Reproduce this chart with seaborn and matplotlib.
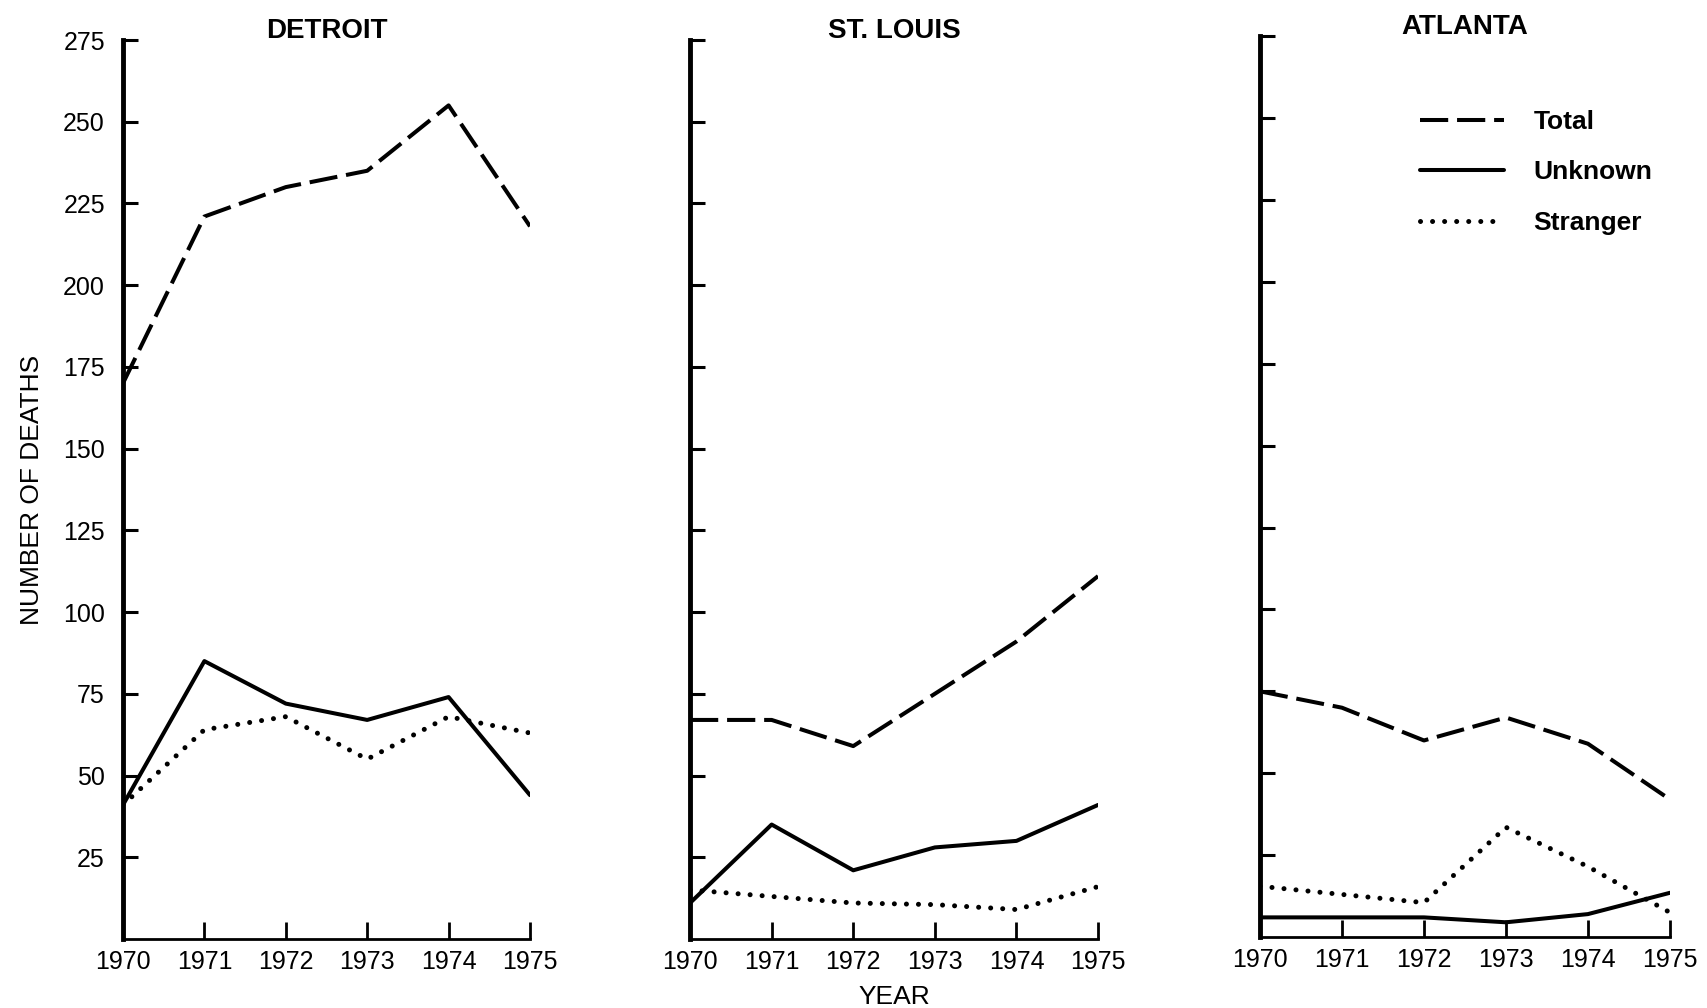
import pandas as pd
import seaborn as sns
import matplotlib.pyplot as plt

years = [1970, 1971, 1972, 1973, 1974, 1975]
cities = ['DETROIT', 'ST. LOUIS', 'ATLANTA']

# values (number of deaths)
detroit_total = [170, 221, 230, 235, 255, 218]
detroit_unknown = [41, 85, 72, 67, 74, 44]
detroit_stranger = [41, 64, 68, 55, 68, 63]

stlouis_total = [67, 67, 59, 75, 91, 111]
stlouis_unknown = [11, 35, 21, 28, 30, 41]
stlouis_stranger = [15, 13, 11, 10.5, 9, 16]

atlanta_total = [75, 70, 60, 67, 59, 42]
atlanta_unknown = [6, 6, 6, 4.5, 7, 13.5]
atlanta_stranger = [15.5, 13, 10.5, 33.5, 21.5, 7.5]

series_names = ['Total', 'Unknown', 'Stranger']
y_ticks = [25, 50, 75, 100, 125, 150, 175, 200, 225, 250, 275]

values = {
    'DETROIT': [detroit_total, detroit_unknown, detroit_stranger],
    'ST. LOUIS': [stlouis_total, stlouis_unknown, stlouis_stranger],
    'ATLANTA': [atlanta_total, atlanta_unknown, atlanta_stranger],
}

rows = []
for city in cities:
    for name, vals in zip(series_names, values[city]):
        for yr, v in zip(years, vals):
            rows.append({'city': city, 'series': name, 'year': yr, 'deaths': v})
df = pd.DataFrame(rows)

sns.set_style('ticks')
plt.rcParams['font.family'] = ['Liberation Sans', 'DejaVu Sans']
plt.rcParams['text.color'] = 'black'
plt.rcParams['axes.labelcolor'] = 'black'
plt.rcParams['xtick.color'] = 'black'
plt.rcParams['ytick.color'] = 'black'
plt.rcParams['axes.edgecolor'] = 'black'

line_styles = {
    'Total': dict(linestyle=(0, (7, 2.2)), lw=2.9),
    'Unknown': dict(linestyle='-', lw=2.9),
    'Stranger': dict(linestyle=(0, (0.01, 2.4)), lw=3.6,
                     dash_capstyle='round'),
}

fig = plt.figure(figsize=(17.08, 10.08), dpi=100)
positions = {
    'DETROIT': [0.0720, 0.0685, 0.2383, 0.8918],
    'ST. LOUIS': [0.4040, 0.0685, 0.2389, 0.8918],
    'ATLANTA': [0.7377, 0.0704, 0.2400, 0.8938],
}

for city in cities:
    ax = fig.add_axes(positions[city])
    sub = df[df['city'] == city]
    for name in series_names:
        d = sub[sub['series'] == name]
        sns.lineplot(data=d, x='year', y='deaths', ax=ax, color='black',
                     label=name, **line_styles[name])
    if ax.get_legend() is not None:
        ax.get_legend().remove()

    ax.set_xlim(1970, 1975)
    ax.set_ylim(0, 275)
    ax.set_xticks(years)
    ax.set_xticklabels([str(y) for y in years])
    ax.set_yticks(y_ticks)
    sns.despine(ax=ax)
    ax.spines['left'].set_linewidth(3.5)
    ax.spines['bottom'].set_linewidth(2.0)
    ax.tick_params(axis='y', direction='in', length=11, width=2.2,
                   labelsize=18, pad=13)
    ax.tick_params(axis='x', direction='in', length=12, width=2.0,
                   labelsize=18, pad=8)
    ax.set_xlabel('')
    ax.set_ylabel('')
    ax.set_title(city, fontsize=20, fontweight='bold', y=1.002, pad=0)

    if city == 'DETROIT':
        ax.set_ylabel('NUMBER OF DEATHS', fontsize=19)
        ax.yaxis.set_label_coords(-0.195, 0.5)
    else:
        ax.tick_params(axis='y', labelleft=False)

    if city == 'ST. LOUIS':
        ax.set_xlabel('YEAR', fontsize=19)
        ax.xaxis.set_label_coords(0.5, -0.051)

    if city == 'ATLANTA':
        leg = ax.legend(loc='upper left', bbox_to_anchor=(0.39, 0.918),
                        frameon=False, handlelength=3.2, handletextpad=1.1,
                        labelspacing=1.0, borderpad=0, borderaxespad=0,
                        prop={'size': 19, 'weight': 'bold'})

fig.savefig('out.png', dpi=100, facecolor='white')
